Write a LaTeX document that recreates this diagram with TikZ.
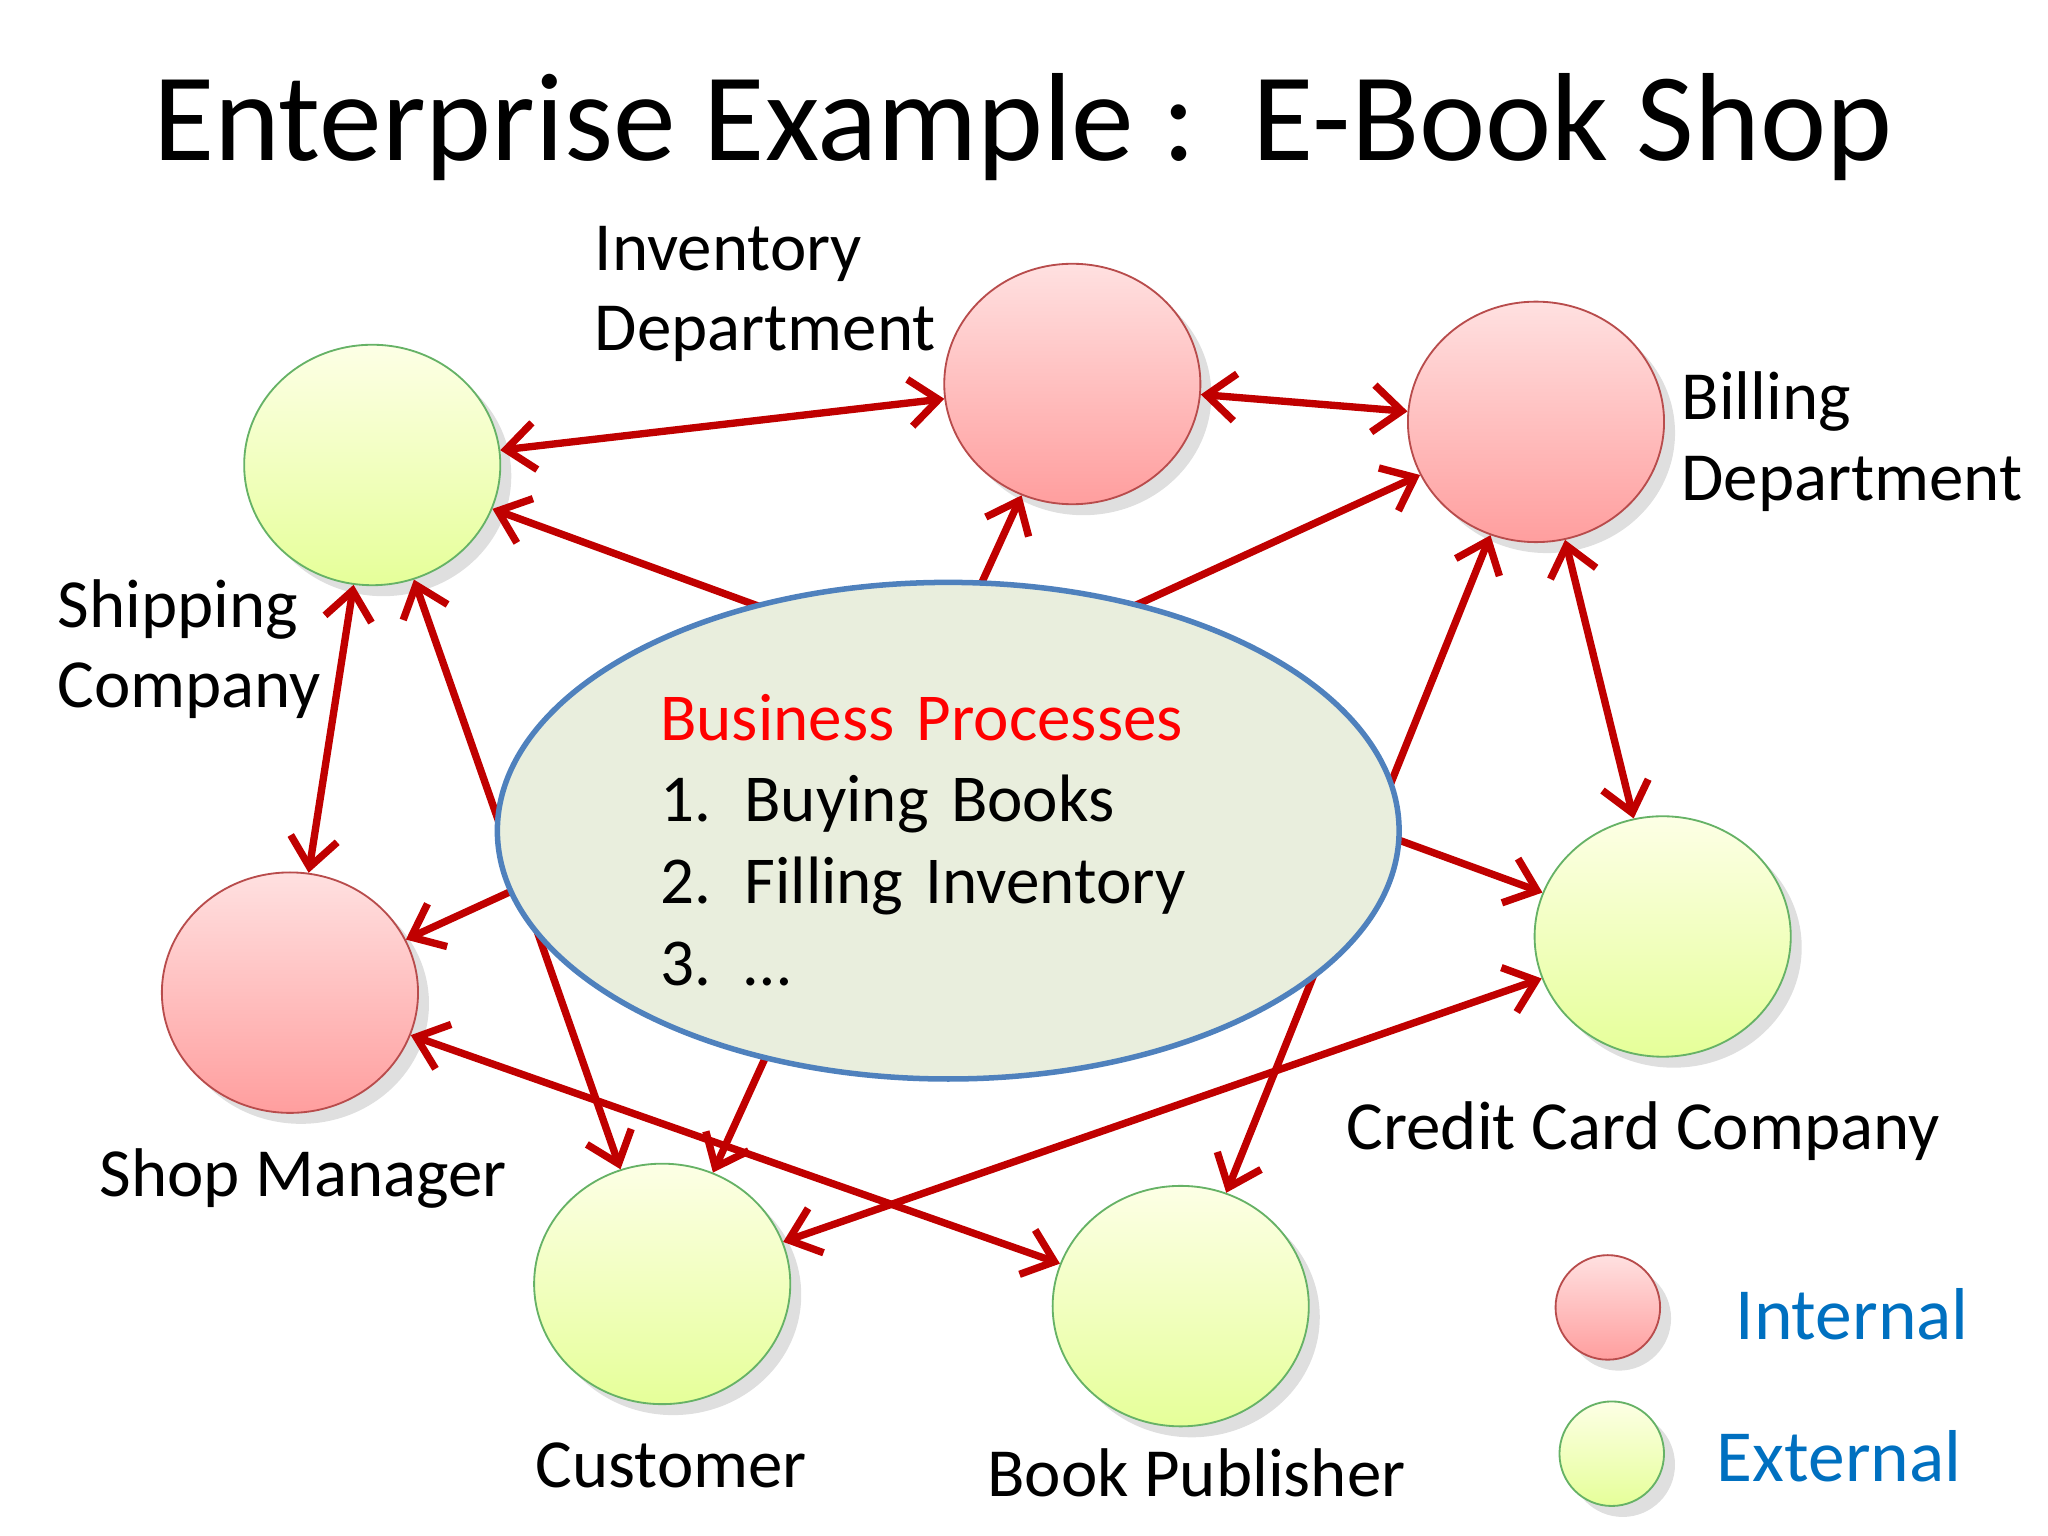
\documentclass[tikz,border=0pt]{standalone}
\usepackage{fontspec}
\setmainfont{Carlito}
\usetikzlibrary{shapes.geometric, arrows.meta, shadows}
\definecolor{arrowred}{HTML}{C00000}
\definecolor{legendblue}{HTML}{0070C0}
\definecolor{procfill}{HTML}{E9EEDD}
\definecolor{procline}{HTML}{4F81BD}
\begin{document}
\begin{tikzpicture}[x=0.01cm,y=-0.01cm,
		internal/.style={ellipse,draw=red!60!black!70,thin,top color=red!12,bottom color=red!38,minimum width=1.96cm,minimum height=1.84cm,drop shadow={opacity=0.25}},
		external/.style={ellipse,draw=green!50!black!60,thin,top color=green!8!yellow!10,bottom color=green!25!yellow!40,minimum width=1.96cm,minimum height=1.84cm,drop shadow={opacity=0.25}},
		lbl/.style={font=\fontsize{15}{17.6}\selectfont,align=left},
		link/.style={draw=arrowred,line width=1.6pt,{Straight Barb[length=2.2mm,width=3.6mm]}-{Straight Barb[length=2.2mm,width=3.6mm]}}]
	\useasboundingbox (0,0) rectangle (1568,1176);
	\node (title) at (783,97) {\fontsize{27.3}{30}\selectfont Enterprise Example :\ \ E-Book Shop};
	% parties
	\node[external] (ship) at (285,356) {};
	\node[internal] (inv) at (821,294) {};
	\node[internal] (bill) at (1176,323) {};
	\node[internal] (mgr) at (222,760) {};
	\node[external] (card) at (1273,717) {};
	\node[external] (cust) at (507,983) {};
	\node[external] (pub) at (904,1000) {};
	\node[lbl] (invlbl) at (586,225) {Inventory\\Department};
	\node[lbl] (billlbl) at (1418,338) {Billing\\Department};
	\node[lbl] (shiplbl) at (145,497) {Shipping\\Company};
	\node[lbl] (mgrlbl) at (232,902) {Shop Manager};
	\node[lbl] (cardlbl) at (1258,866) {Credit Card Company};
	\node[lbl] (custlbl) at (514,1122) {Customer};
	\node[lbl] (publbl) at (916,1128) {Book Publisher};
	% links
	\path[link] (ship) -- (inv);
	\path[link] (inv) -- (bill);
	\path[link] (ship) -- (mgr);
	\path[link] (bill) -- (card);
	\path[link] (mgr) -- (pub);
	\path[link] (cust) -- (card);
	\path[link] (ship) -- (card);
	\path[link] (inv) -- (cust);
	\path[link] (bill) -- (mgr);
	\path[link] (bill) -- (pub);
	\path[link] (ship.-70) -- (cust.110);
	% processes
	\node[ellipse,draw=procline,line width=1.2pt,fill=procfill,minimum width=6.9cm,minimum height=3.8cm] (proc) at (726,636) {};
	\node[lbl,font=\fontsize{14.6}{17.8}\selectfont,anchor=north west,text width=5cm] (proclbl) at (493,519) {\textcolor{red}{Business Processes}\\1.\ \,Buying Books\\2.\ \,Filling Inventory\\3.\ \,\dots};
	% legend
	\node[internal,minimum width=0.8cm,minimum height=0.8cm] (legint) at (1231,1001) {};
	\node[external,minimum width=0.8cm,minimum height=0.8cm] (legext) at (1234,1113) {};
	\node[lbl,text=legendblue,font=\fontsize{16}{18}\selectfont] (intlbl) at (1418,1006) {Internal};
	\node[lbl,text=legendblue,font=\fontsize{16}{18}\selectfont] (extlbl) at (1408,1115) {External};
\end{tikzpicture}
\end{document}
